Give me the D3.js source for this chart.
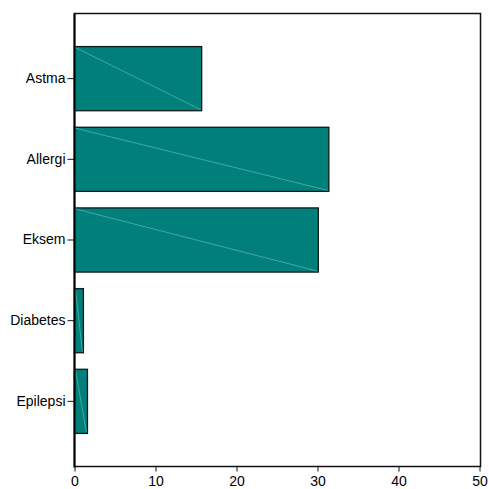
<!DOCTYPE html>
<html><head><meta charset="utf-8">
<script src="https://cdn.jsdelivr.net/npm/d3@7"></script>
<style>body{margin:0;background:#fff}svg{display:block}text{font-family:"Liberation Sans",Arial,sans-serif}</style>
</head><body><svg id="c" width="489" height="489"></svg>
<script>
const categories = ["Astma","Allergi","Eksem","Diabetes","Epilepsi"];
const values = [15.7, 31.4, 30.1, 1.1, 1.6];
const xTicks = [0,10,20,30,40,50];

const svg = d3.select("#c");
const L=74.5, R=480.5, T=13.5, B=466.5;
const x = d3.scaleLinear().domain([0,50]).range([L, R-1]);
const y = d3.scaleBand().domain(categories).range([T,B]).paddingInner(0.205).paddingOuter(0.41);

svg.append("rect").attr("x",L).attr("y",T).attr("width",R-L).attr("height",B-T)
  .attr("fill","none").attr("stroke","#111").attr("stroke-width",1.5);

const bars = svg.append("g");
categories.forEach((c,i)=>{
  const x0=x(0), x1=x(values[i]), y0=y(c), y1=y(c)+y.bandwidth();
  bars.append("rect").attr("x",x0).attr("y",y0).attr("width",x1-x0).attr("height",y1-y0)
    .attr("fill","#007f7b").attr("stroke","#0d1a1a").attr("stroke-width",1.3);
  bars.append("line").attr("x1",x0+1).attr("y1",y0+1).attr("x2",x1-1).attr("y2",y1-1)
    .attr("stroke","#6cc4bd").attr("stroke-width",0.6);
});

const xa = svg.append("g").attr("transform",`translate(0,${B})`)
  .call(d3.axisBottom(x).tickValues(xTicks).tickSize(5).tickSizeOuter(0).tickPadding(5));
xa.select(".domain").remove();
xa.selectAll("line").attr("stroke","#111");
xa.selectAll("text").attr("font-size","14px").attr("fill","#000");

const ya = svg.append("g").attr("transform",`translate(${L},0)`)
  .call(d3.axisLeft(y).tickSize(7).tickSizeOuter(0).tickPadding(2));
ya.select(".domain").remove();
ya.selectAll("line").attr("stroke","#111");
ya.selectAll("text").attr("font-size","14px").attr("fill","#000");

svg.append("line").attr("x1",L).attr("x2",L).attr("y1",T).attr("y2",B+1).attr("stroke","#000").attr("stroke-width",2);
</script></body></html>
